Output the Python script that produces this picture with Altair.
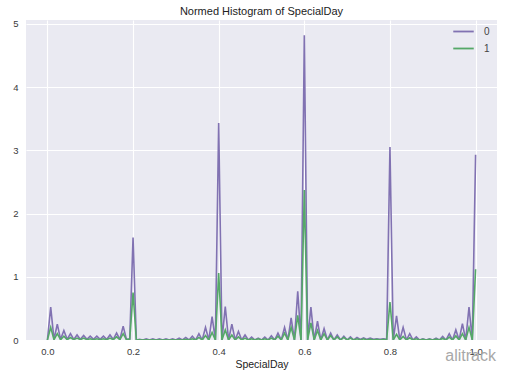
import altair as alt
import pandas as pd

# KDE grid of SpecialDay (131 evaluation points from 0 to 1)
grid = [round(j / 130, 5) for j in range(131)]

# Revenue == 0 (purple)
y_class0 = [
    0.0, 0.52, 0.01, 0.25, 0.01, 0.15, 0.01, 0.10, 0.01, 0.08, 0.01, 0.07, 0.01,
    0.06, 0.01, 0.06, 0.01, 0.06, 0.01, 0.08, 0.01, 0.11, 0.01, 0.22, 0.01, 0.02,
    1.62,
    0.0, 0.01, 0.0, 0.02, 0.0, 0.02, 0.0, 0.02, 0.0, 0.02, 0.0, 0.02, 0.0, 0.03,
    0.0, 0.04, 0.0, 0.06, 0.0, 0.10, 0.0, 0.20, 0.0, 0.37, 0.0,
    3.43,
    0.0, 0.53, 0.0, 0.25, 0.0, 0.135, 0.0, 0.08, 0.0, 0.045, 0.0, 0.03, 0.0, 0.045,
    0.0, 0.066, 0.0, 0.11, 0.0, 0.20, 0.0, 0.35, 0.0, 0.77, 0.0,
    4.82,
    0.0, 0.52, 0.0, 0.30, 0.0, 0.18, 0.0, 0.11, 0.0, 0.08, 0.0, 0.06, 0.0, 0.05,
    0.0, 0.04, 0.01, 0.035, 0.01, 0.03, 0.01, 0.02, 0.01, 0.02, 0.01,
    3.05,
    0.0, 0.38, 0.0, 0.20, 0.0, 0.10, 0.0, 0.05, 0.0, 0.02, 0.0, 0.02, 0.0, 0.03,
    0.0, 0.055, 0.0, 0.10, 0.0, 0.16, 0.0, 0.26, 0.0, 0.52, 0.0,
    2.93,
]

# Revenue == 1 (green)
y_class1 = [
    0.0, 0.20, 0.005, 0.10, 0.005, 0.06, 0.005, 0.04, 0.005, 0.03, 0.005, 0.03, 0.005,
    0.02, 0.005, 0.02, 0.005, 0.02, 0.005, 0.03, 0.005, 0.05, 0.005, 0.10, 0.005, 0.01,
    0.75,
    0.0, 0.005, 0.0, 0.005, 0.0, 0.005, 0.0, 0.005, 0.0, 0.005, 0.0, 0.005, 0.0, 0.005,
    0.0, 0.01, 0.0, 0.02, 0.0, 0.04, 0.0, 0.07, 0.0, 0.12, 0.0,
    1.06,
    0.0, 0.16, 0.0, 0.08, 0.0, 0.05, 0.0, 0.03, 0.0, 0.02, 0.0, 0.02, 0.0, 0.02,
    0.0, 0.03, 0.0, 0.06, 0.0, 0.11, 0.0, 0.20, 0.0, 0.39, 0.0,
    2.37,
    0.0, 0.27, 0.0, 0.15, 0.0, 0.10, 0.0, 0.07, 0.0, 0.05, 0.0, 0.04, 0.0, 0.03,
    0.0, 0.02, 0.0, 0.02, 0.0, 0.015, 0.0, 0.01, 0.0, 0.01, 0.0,
    0.60,
    0.0, 0.09, 0.0, 0.055, 0.0, 0.035, 0.0, 0.02, 0.0, 0.01, 0.0, 0.01, 0.0, 0.015,
    0.0, 0.025, 0.0, 0.045, 0.0, 0.065, 0.0, 0.10, 0.0, 0.20, 0.0,
    1.12,
]

series_names = ["0", "1"]
series_colors = ["#8172B2", "#55A868"]
x_ticks = [0.0, 0.2, 0.4, 0.6, 0.8, 1.0]
y_ticks = [0, 1, 2, 3, 4, 5]

rows = []
for name, ys in zip(series_names, [y_class0, y_class1]):
    for i, (xv, yv) in enumerate(zip(grid, ys)):
        rows.append({"SpecialDay": xv, "density": yv, "series": name, "order": i})
df = pd.DataFrame(rows)

FONT = "Liberation Sans"

lines = alt.Chart(df).mark_line(strokeWidth=1.6, clip=True).encode(
    x=alt.X("SpecialDay:Q",
            scale=alt.Scale(domain=[-0.05, 1.05], nice=False, zero=False),
            axis=alt.Axis(values=x_ticks, format=".1f", title="SpecialDay",
                          grid=True, gridColor="white", gridWidth=1.1,
                          domain=False, ticks=False, labelPadding=6,
                          labelFontSize=9.5, labelColor="#3a3a3a",
                          titleFontSize=10.5, titleFontWeight="normal",
                          titleColor="#222222", titlePadding=4)),
    y=alt.Y("density:Q",
            scale=alt.Scale(domain=[0, 5.06], nice=False),
            axis=alt.Axis(values=y_ticks, format="d", title=None,
                          grid=True, gridColor="white", gridWidth=1.1,
                          domain=False, ticks=False, labelPadding=8,
                          labelFontSize=9.5, labelColor="#3a3a3a")),
    color=alt.Color("series:N",
                    scale=alt.Scale(domain=series_names, range=series_colors),
                    legend=alt.Legend(title=None, orient="none",
                                      legendX=426, legendY=0,
                                      symbolType="stroke", symbolSize=420,
                                      symbolStrokeWidth=1.8,
                                      labelFontSize=10, labelColor="#444444",
                                      rowPadding=-7, labelOffset=9)),
    detail="series:N",
    order="order:Q",
)

watermark = alt.Chart(pd.DataFrame({"t": ["alitrack"]})).mark_text(
    align="right", baseline="middle", fontSize=16, color="#a8a8a8", font=FONT
).encode(text="t:N", x=alt.value(470), y=alt.value(336))

chart = alt.layer(lines, watermark).properties(
    width=471,
    height=320,
    title=alt.TitleParams("Normed Histogram of SpecialDay", fontSize=11,
                          fontWeight="normal", color="#222222", offset=2,
                          anchor="middle"),
    autosize=alt.AutoSizeParams(type="none"),
    padding={"left": 26, "top": 20, "right": 15, "bottom": 36},
).configure(font=FONT).configure_view(fill="#EAEAF2", stroke=None)

chart.save("out.html", embed_options={"renderer": "svg", "actions": False})
